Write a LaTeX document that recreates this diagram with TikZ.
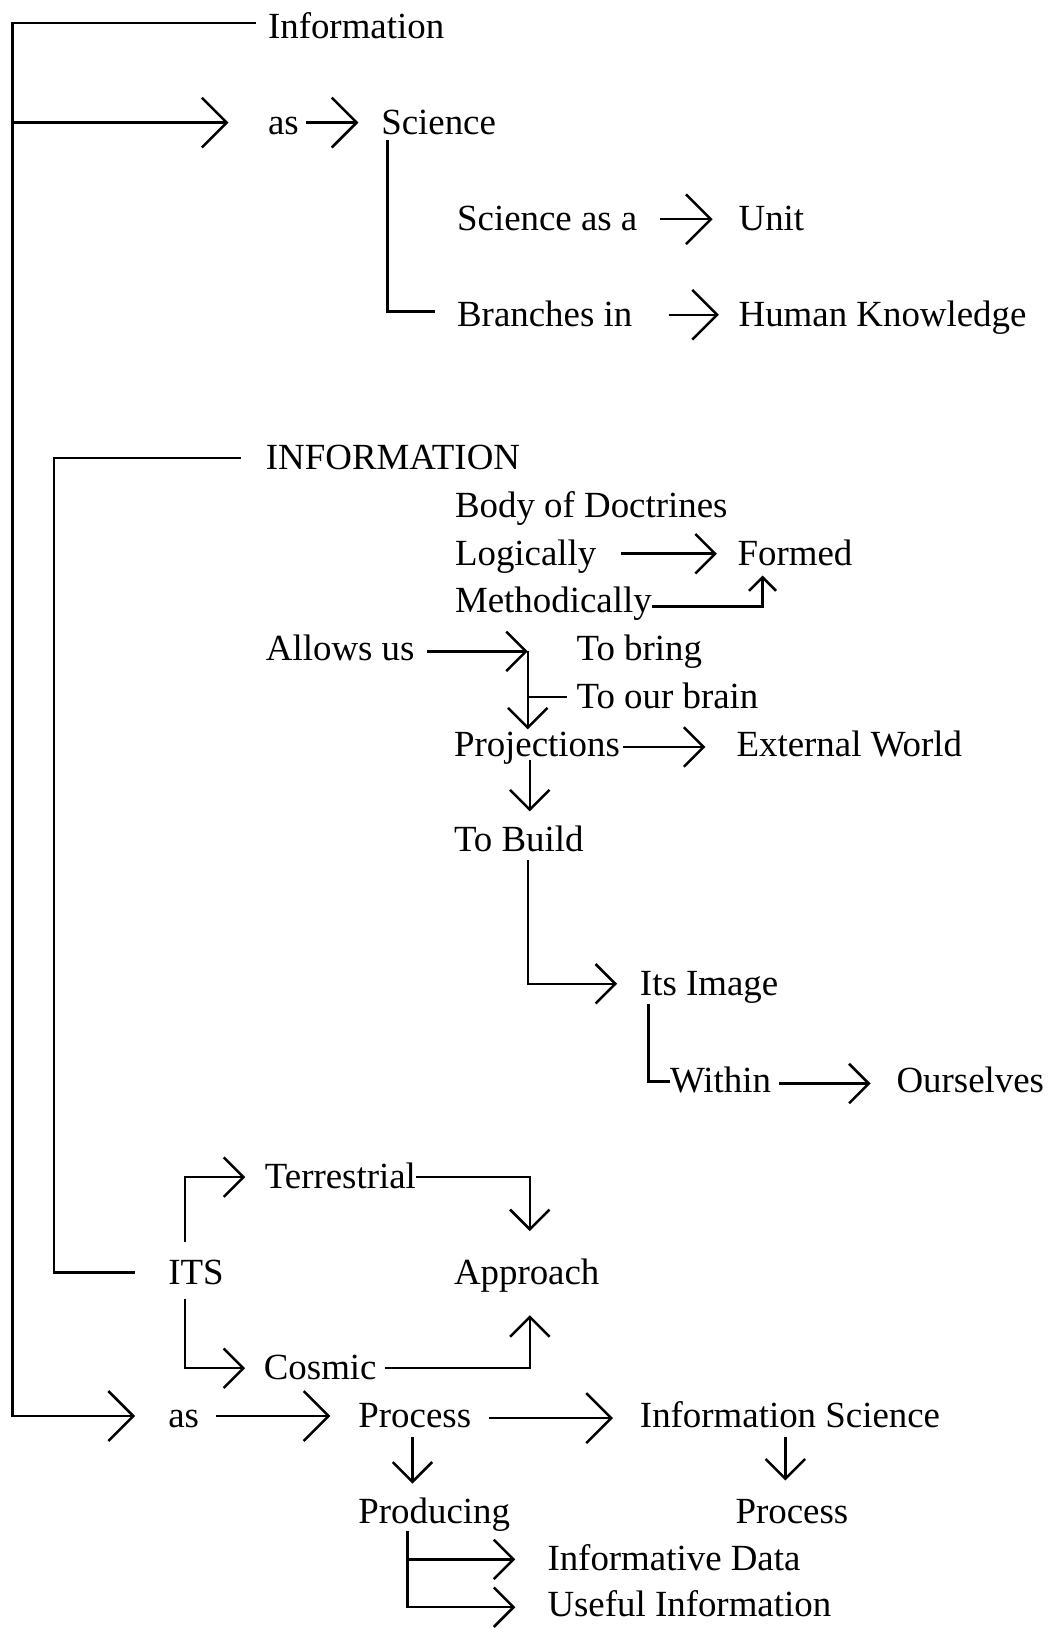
\documentclass[tikz,border=0pt]{standalone}
\usepackage{fontspec}
\setmainfont{Liberation Serif}
\usetikzlibrary{arrows.meta}
\begin{document}
\begin{tikzpicture}[x=1pt,y=1pt,line width=2.4pt,
  txt/.style={anchor=west,inner sep=0pt,outer sep=0pt,font=\fontsize{35.5}{40}\selectfont,text height=26pt,text depth=4pt},
  arrB/.style={-{Straight Barb[length=24pt,width=48pt]}},
  arrM/.style={-{Straight Barb[length=19pt,width=38pt]}},
  arrS/.style={-{Straight Barb[length=13pt,width=26pt]}}]
\useasboundingbox (0,0) rectangle (1011,-1568);
% texts
\node[txt] (n1) at (258,-26) {Information};
\node[txt] (as1) at (258,-118) {as};
\node[txt] (sci) at (367,-118) {Science};
\node[txt] (sa) at (440,-211) {Science as a};
\node[txt] (unit) at (711,-211) {Unit};
\node[txt] (br) at (440,-303) {Branches in};
\node[txt] (hk) at (711,-303) {Human Knowledge};
\node[txt] (INF) at (256,-441) {INFORMATION};
\node[txt] (bod) at (438,-487) {Body of Doctrines};
\node[txt] (lg) at (438,-533) {Logically};
\node[txt] (fm) at (710,-533) {Formed};
\node[txt] (me) at (438,-579) {Methodically};
\node[txt] (al) at (256,-625) {Allows us};
\node[txt] (tb) at (555,-625) {To bring};
\node[txt] (tob) at (555,-671) {To our brain};
\node[txt] (pr) at (437,-717) {Projections};
\node[txt] (ew) at (709,-717) {External World};
\node[txt] (bu) at (437,-809) {To Build};
\node[txt] (im) at (616,-947) {Its Image};
\node[txt] (wi) at (645,-1041) {Within};
\node[txt] (ou) at (863,-1041) {Ourselves};
\node[txt] (te) at (255,-1133) {Terrestrial};
\node[txt] (its) at (162,-1225) {ITS};
\node[txt] (ap) at (437,-1225) {Approach};
\node[txt] (co) at (254,-1317) {Cosmic};
\node[txt] (as2) at (162,-1363) {as};
\node[txt] (pro) at (345,-1363) {Process};
\node[txt] (is) at (616,-1363) {Information Science};
\node[txt] (prod) at (345,-1455) {Producing};
\node[txt] (pro2) at (708,-1455) {Process};
\node[txt] (id) at (527,-1501) {Informative Data};
\node[txt] (ui) at (527,-1545) {Useful Information};
% coordinates
\coordinate (sp2) at (12,-118);
\coordinate (j1) at (508,-627);
\coordinate (j2) at ([xshift=47pt]prod.south west);
% outer spine
\draw[arrB] ([xshift=-12pt,yshift=4pt]n1.west) -| ([xshift=-150pt]as2.west) -- ([xshift=-32pt]as2.west);
\draw[arrB] (sp2) -- ([xshift=-38pt]as1.west);
\draw[arrB] ([xshift=7pt]as1.east) -- ([xshift=-22pt]sci.west);
\draw ([xshift=6pt,yshift=-17pt]sci.west) |- ([xshift=-21pt,yshift=3pt]br.west);
\draw[arrB] ([xshift=22pt]sa.east) -- ([xshift=-25pt]unit.west);
\draw[arrB] ([xshift=35pt]br.east) -- ([xshift=-19pt]hk.west);
% inner spine
\draw ([xshift=-24pt]INF.west) -| ([xshift=-110pt]its.west) -- ([xshift=-32pt]its.west);
\draw[arrM] ([xshift=24pt]lg.east) -- ([xshift=-20pt]fm.west);
\draw[arrS] ([yshift=-5pt]me.east) -| ([xshift=24pt,yshift=-21pt]fm.west);
\draw[arrM] ([xshift=12pt,yshift=-2pt]al.east) -- (j1);
\draw[arrM] (j1) -- (j1 |- pr.north);
\draw (j1 |- tob.west) -- ([xshift=-9pt]tob.west);
\draw[arrM] ([xshift=3pt,yshift=-2pt]pr.east) -- ([xshift=-30pt,yshift=-2pt]ew.west);
\draw[arrM] ([xshift=73pt]pr.south west) -- ([xshift=73pt,yshift=13pt]bu.north west);
\draw[arrM] ([xshift=71pt,yshift=-4pt]bu.south west) |- ([xshift=-22pt]im.west);
\draw ([xshift=8pt,yshift=-4pt]im.south west) |- (wi.west);
\draw[arrM] ([xshift=8pt,yshift=-2pt]wi.east) -- ([xshift=-25pt,yshift=-2pt]ou.west);
% ITS block
\draw[arrM] ([xshift=16pt,yshift=15pt]its.north west) |- ([xshift=-19pt]te.west);
\draw[arrM] (te.east) -| ([xshift=73pt,yshift=25pt]ap.north west);
\draw[arrM] ([xshift=16pt,yshift=-10pt]its.south west) |- ([xshift=-18pt]co.west);
\draw[arrM] ([xshift=8pt]co.east) -| ([xshift=73pt,yshift=-26pt]ap.south west);
% bottom
\draw[arrB] ([xshift=16pt]as2.east) -- ([xshift=-27pt]pro.west);
\draw[arrB] ([xshift=17pt,yshift=-2pt]pro.east) -- ([xshift=-26pt,yshift=-2pt]is.west);
\draw[arrM] ([xshift=52pt,yshift=-5pt]pro.south west) -- ([xshift=52pt,yshift=12pt]prod.north west);
\draw[arrM] ([xshift=140pt,yshift=-5pt]is.south west) -- ([xshift=48pt,yshift=15pt]pro2.north west);
\draw[arrM] ([yshift=-4pt]j2) |- ([xshift=-31pt,yshift=-2pt]ui.west);
\draw[arrM] (j2 |- id.west) -- ([xshift=-31pt]id.west);
\end{tikzpicture}
\end{document}
